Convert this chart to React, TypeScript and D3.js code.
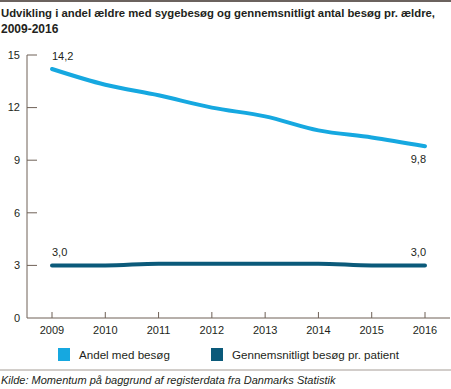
import React from 'react'
import * as d3 from 'd3'

const years = [2009, 2010, 2011, 2012, 2013, 2014, 2015, 2016]
const andelMedBesoeg = [14.2, 13.3, 12.7, 12.0, 11.5, 10.7, 10.3, 9.8]
const besoegPrPatient = [3.0, 3.0, 3.1, 3.1, 3.1, 3.1, 3.0, 3.0]
const yTicks = [0, 3, 6, 9, 12, 15]
const seriesNames = ['Andel med besøg', 'Gennemsnitligt besøg pr. patient']
const seriesColors = ['#16a8e0', '#0b5a7a']

const W = 451
const H = 389
const axisColor = '#6f6157'
const textColor = '#231f20'
const font = '"Liberation Sans", Arial, sans-serif'

export default function App() {
  const x = d3.scalePoint<number>().domain(years).range([52, 425])
  const y = d3.scaleLinear().domain([0, 15]).range([318, 55])

  const line = d3
    .line<number>()
    .x((_, i) => x(years[i]) as number)
    .y((d) => y(d))
    .curve(d3.curveMonotoneX)

  const fmt = (v: number) => v.toFixed(1).replace('.', ',')
  const first = years[0]
  const last = years[years.length - 1]

  return (
    <svg
      width={W}
      height={H}
      style={{ position: 'absolute', left: 0, top: 0, fontFamily: font }}
    >
      <line x1={0} x2={W} y1={1} y2={1} stroke="#3a2e28" strokeWidth={1.5} />
      <text
        x={1}
        y={17}
        fontSize={11.4}
        fontWeight="bold"
        fill={textColor}
        textLength={434}
        lengthAdjust="spacingAndGlyphs"
      >
        Udvikling i andel ældre med sygebesøg og gennemsnitligt antal besøg pr. ældre,
      </text>
      <text x={1} y={33} fontSize={12} fontWeight="bold" fill={textColor}>
        2009-2016
      </text>

      {/* y axis */}
      <line x1={27} x2={27} y1={y(15)} y2={y(0)} stroke={axisColor} strokeWidth={1} />
      {yTicks.map((t) => (
        <g key={t}>
          {t > 0 && (
            <line x1={27} x2={37} y1={y(t)} y2={y(t)} stroke={axisColor} strokeWidth={1} />
          )}
          <text
            x={20}
            y={y(t)}
            dy="0.35em"
            textAnchor="end"
            fontSize={11}
            fill={textColor}
          >
            {t}
          </text>
        </g>
      ))}

      {/* x axis */}
      <line x1={27} x2={450} y1={y(0)} y2={y(0)} stroke={axisColor} strokeWidth={1} />
      {years.map((yr) => (
        <g key={yr}>
          <line
            x1={x(yr)}
            x2={x(yr)}
            y1={y(0) - 6}
            y2={y(0)}
            stroke={axisColor}
            strokeWidth={1}
          />
          <text x={x(yr)} y={334} textAnchor="middle" fontSize={11} fill={textColor}>
            {yr}
          </text>
        </g>
      ))}

      <path
        d={line(andelMedBesoeg) || ''}
        fill="none"
        stroke={seriesColors[0]}
        strokeWidth={4}
        strokeLinecap="round"
      />
      <path
        d={line(besoegPrPatient) || ''}
        fill="none"
        stroke={seriesColors[1]}
        strokeWidth={4}
        strokeLinecap="round"
      />

      {/* value labels */}
      <text x={x(first)} y={y(andelMedBesoeg[0]) - 9} fontSize={11} fill={textColor}>
        {fmt(andelMedBesoeg[0])}
      </text>
      <text
        x={(x(last) as number) + 1}
        y={y(andelMedBesoeg[7]) + 17}
        textAnchor="end"
        fontSize={11}
        fill={textColor}
      >
        {fmt(andelMedBesoeg[7])}
      </text>
      <text x={x(first)} y={y(besoegPrPatient[0]) - 9} fontSize={11} fill={textColor}>
        {fmt(besoegPrPatient[0])}
      </text>
      <text
        x={(x(last) as number) + 1}
        y={y(besoegPrPatient[7]) - 9}
        textAnchor="end"
        fontSize={11}
        fill={textColor}
      >
        {fmt(besoegPrPatient[7])}
      </text>

      {/* legend */}
      {seriesNames.map((name, i) => {
        const lx = i === 0 ? 58 : 211
        return (
          <g key={name}>
            <rect x={lx} y={348} width={12} height={13} fill={seriesColors[i]} />
            <text x={lx + 21} y={359} fontSize={11.6} fill={textColor}>
              {name}
            </text>
          </g>
        )
      })}

      <line x1={0} x2={W} y1={370} y2={370} stroke="#a59c95" strokeWidth={1} />
      <text x={1} y={384} fontSize={11} fontStyle="italic" fill={textColor}>
        Kilde: Momentum på baggrund af registerdata fra Danmarks Statistik
      </text>
    </svg>
  )
}
